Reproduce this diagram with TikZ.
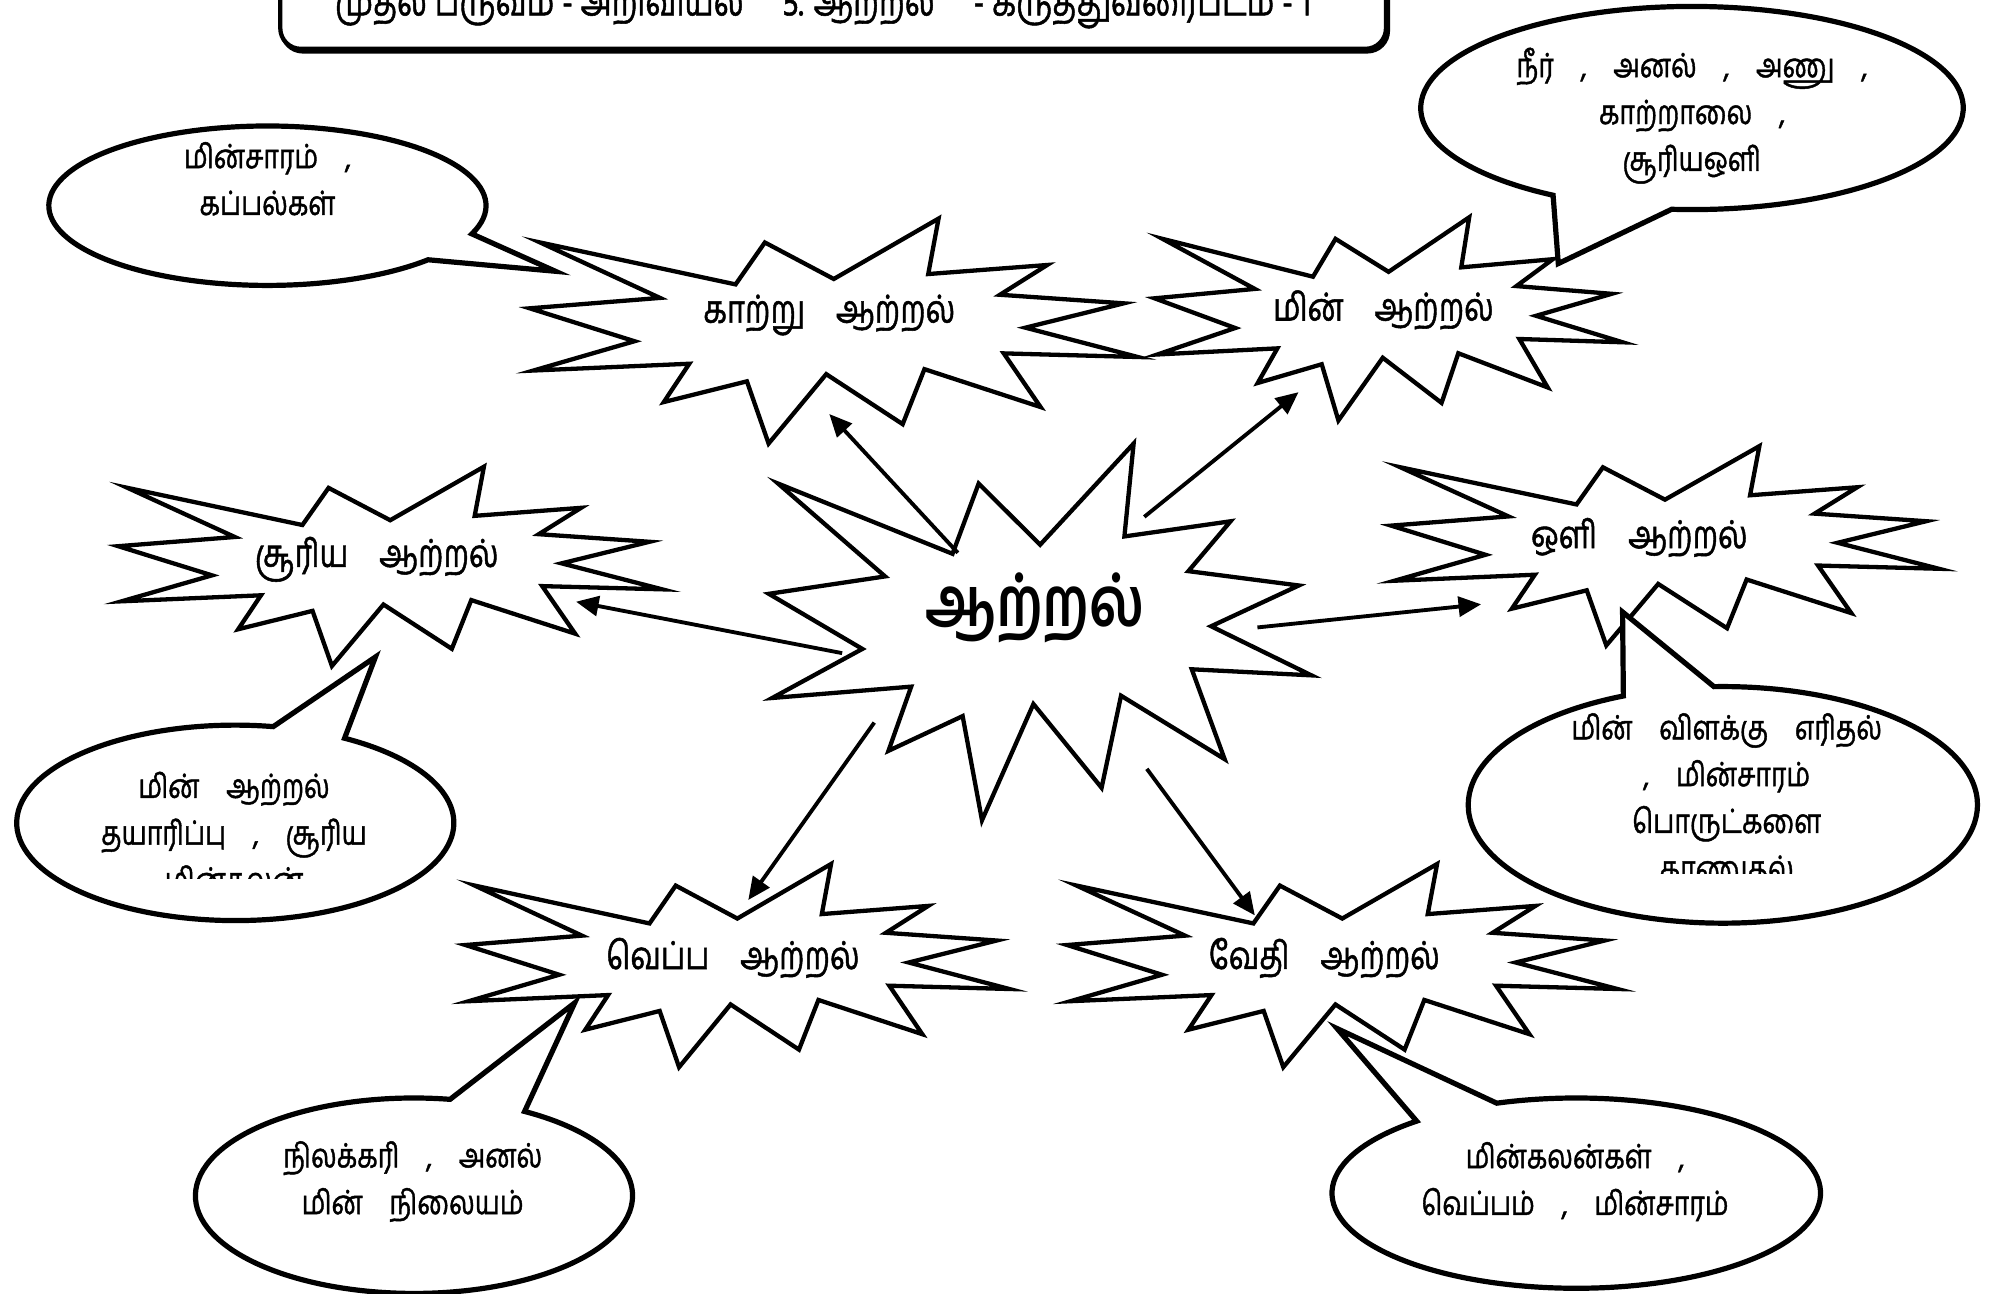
\documentclass[tikz,border=0pt]{standalone}
\usepackage{fontspec}
\usepackage{graphicx}
\newfontfamily\tamil[Script=Tamil, FakeBold=1.4]{Hind Madurai}
\newfontfamily\tamilhead[Script=Tamil]{Hind Madurai}
\usetikzlibrary{arrows.meta,calc}

% Tamil lines are drawn a little taller than the font's own proportions
\newcommand{\tall}[1]{\scalebox{1}[1.25]{#1}}

\tikzset{
  burstline/.style={draw=black, line width=0.95pt, fill=white, line join=miter},
  callline/.style={draw=black, line width=1.15pt, fill=white, line join=miter},
  link/.style={draw=black, line width=0.85pt, -{Triangle[length=5pt,width=4.4pt]}},
  blabel/.style={font=\tamil\fontsize{6.8}{8}\selectfont, inner sep=0pt},
  hub/.style={font=\tamilhead\bfseries\fontsize{12.2}{14}\selectfont, inner sep=0pt},
  clabel/.style={font=\tamil\fontsize{5.9}{10.35}\selectfont, align=center, inner sep=0pt},
  ttlabel/.style={font=\tamil\fontsize{6.9}{8}\selectfont, inner sep=0pt, anchor=base},
}

% explosion outline inside the box (left, top, width, height); y grows downward
\newcommand{\burst}[4]{%
  \begin{scope}[shift={(#1,#2)}, xscale=#3/216, yscale=#4/216]
    \path[burstline] (108,58) -- (145.22,0) -- (141.55,53.25) -- (183.8,44.57)
      -- (167.02,73.15) -- (210.97,81.37) -- (176.07,104.75) -- (216,132.9)
      -- (168.37,129.42) -- (181.45,180.95) -- (140.2,144.57) -- (132.47,197.37)
      -- (105.32,149.35) -- (84.85,216) -- (77.15,156.27) -- (47.62,176.17)
      -- (56.67,139.37) -- (1.35,145.87) -- (37.22,117.75) -- (0,86.15)
      -- (46.27,76.17) -- (3.7,22.95) -- (73.12,63.2) -- (83.52,22.95) -- cycle;
  \end{scope}}

% speech bubble: centre, x radius, y radius, wedge angles a < b, arc end (b-360), tip
\newcommand{\bubble}[7]{%
  \path[callline] ($(#1)+(#5:#2 and #3)$) -- (#7) -- ($(#1)+(#4:#2 and #3)$)
    arc[start angle=#4, end angle=#6, x radius=#2, y radius=#3] -- cycle;}

\begin{document}
\begin{tikzpicture}[x=0.01cm, y=-0.01cm]
  \useasboundingbox (0,0) rectangle (1568,1006);
  \clip (0,0) rectangle (1568,1006);
  \fill[white] (0,0) rectangle (1568,1006);

  % heading frame with a slight drop shadow
  \draw[line width=0.95pt, rounded corners=0.16cm] (219.5,-80) rectangle (1079.5,40);
  \draw[line width=0.95pt, rounded corners=0.16cm, fill=white] (218,-80) rectangle (1078,38);
  \node[ttlabel] (ttl) at (640,12) {\tall{முதல் பருவம் - அறிவியல் \quad 5. ஆற்றல் \quad - கருத்துவரைபடம் - 1}};

  % explosions
  \burst{598}{345}{422}{293}
  \burst{412}{170}{473}{175}
  \burst{898}{169}{364}{158}
  \burst{92}{363}{423}{155}
  \burst{1082}{347}{426}{155}
  \burst{362}{672}{423}{158}
  \burst{830}{672}{428}{158}

  \node[hub] (core) at (805,473) {\tall{ஆற்றல்}};
  \node[blabel] (wind) at (645,245) {\tall{காற்று\quad ஆற்றல்}};
  \node[blabel] (elec) at (1076,241) {\tall{மின்\quad ஆற்றல்}};
  \node[blabel] (sun) at (293,435) {\tall{சூரிய\quad ஆற்றல்}};
  \node[blabel] (light) at (1275,418) {\tall{ஒளி\quad ஆற்றல்}};
  \node[blabel] (heat) at (570,745) {\tall{வெப்ப\quad ஆற்றல்}};
  \node[blabel] (chem) at (1030,745) {\tall{வேதி\quad ஆற்றல்}};

  % arrows from the hub
  \coordinate (s1) at (745,430); \coordinate (e1) at (645,322);
  \coordinate (s2) at (890,402); \coordinate (e2) at (1010,305);
  \coordinate (s3) at (655,508); \coordinate (e3) at (448,468);
  \coordinate (s4) at (978,488); \coordinate (e4) at (1152,470);
  \coordinate (s5) at (680,562); \coordinate (e5) at (582,700);
  \coordinate (s6) at (892,598); \coordinate (e6) at (976,712);
  \draw[link] (s1) -- (e1);
  \draw[link] (s2) -- (e2);
  \draw[link] (s3) -- (e3);
  \draw[link] (s4) -- (e4);
  \draw[link] (s5) -- (e5);
  \draw[link] (s6) -- (e6);

  % speech bubbles
  \coordinate (c1) at (208,160); \coordinate (p1) at (432,211);
  \coordinate (c2) at (1316,84); \coordinate (p2) at (1212,205);
  \coordinate (c3) at (183,640); \coordinate (p3) at (292,511);
  \coordinate (c4) at (1340,626); \coordinate (p4) at (1262,476);
  \coordinate (c5) at (322,930); \coordinate (p5) at (447,780);
  \coordinate (c6) at (1226,928); \coordinate (p6) at (1040,800);
  \bubble{c1}{170}{62}{20.7}{42.7}{-317.3}{p1}
  \bubble{c2}{211}{79}{94.3}{120.8}{-239.2}{p2}
  \bubble{c3}{170}{76}{-80}{-60}{-420}{p3}
  \bubble{c4}{198}{92}{-113}{-92}{-452}{p4}
  \bubble{c5}{170}{76}{-80.5}{-59.6}{-419.6}{p5}
  \bubble{c6}{190}{74}{-130.8}{-109}{-469}{p6}

  \node[clabel] (n1) at (208,139) {\tall{மின்சாரம்\quad ,}\\\tall{கப்பல்கள்}};
  \node[clabel] (n2) at (1316,90) {\tall{நீர்\quad ,\quad அனல்\quad ,\quad அணு\quad ,}\\\tall{காற்றாலை\quad ,}\\\tall{சூரியஒளி}};
  \begin{scope}
    \clip (0,560) rectangle (400,683);
    \node[clabel] (n3) at (182,647) {\tall{மின்\quad ஆற்றல்}\\\tall{தயாரிப்பு\quad ,\quad சூரிய}\\\tall{மின்கலன்}};
  \end{scope}
  \begin{scope}
    \clip (1140,540) rectangle (1540,679);
    \node[clabel] (n4) at (1343,624) {\tall{மின்\quad விளக்கு\quad எரிதல்}\\\tall{,\quad மின்சாரம்}\\\tall{பொருட்களை}\\\tall{காணுதல்}};
  \end{scope}
  \node[clabel] (n5) at (321,919) {\tall{நிலக்கரி\quad ,\quad அனல்}\\\tall{மின்\quad நிலையம்}};
  \node[clabel] (n6) at (1225,919) {\tall{மின்கலன்கள்\quad ,}\\\tall{வெப்பம்\quad ,\quad மின்சாரம்}};
\end{tikzpicture}
\end{document}
